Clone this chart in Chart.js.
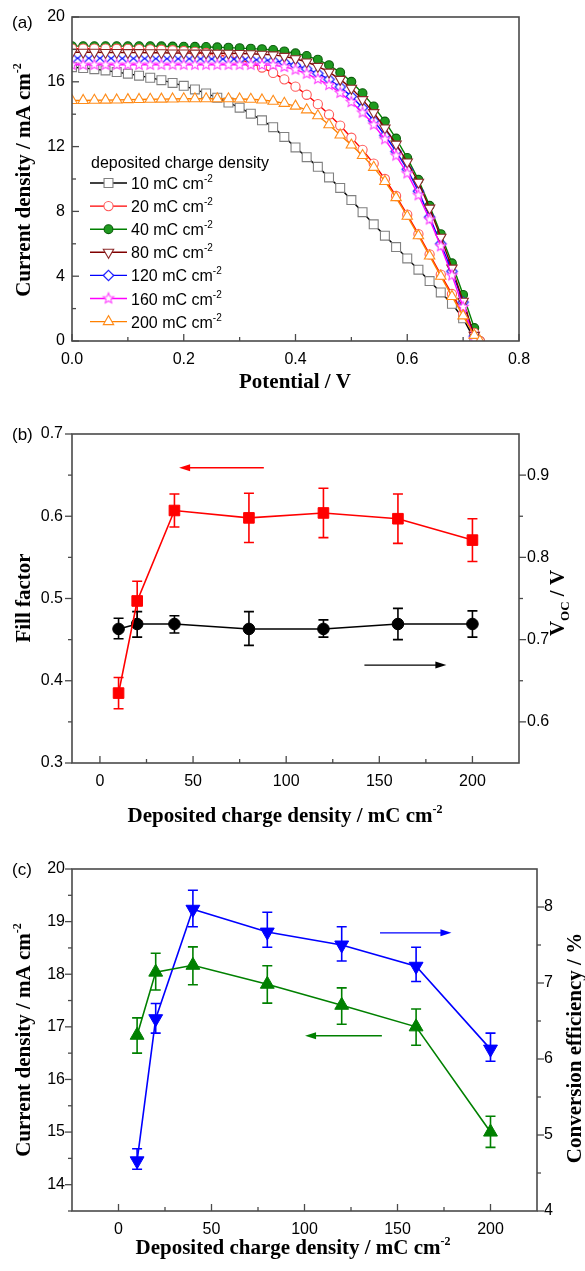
<!DOCTYPE html>
<html><head><meta charset="utf-8">
<script src="https://cdn.jsdelivr.net/npm/chart.js@4.4.1/dist/chart.umd.min.js"></script>
<style>
html,body{margin:0;padding:0;background:#fff;}
body{width:585px;height:1271px;position:relative;overflow:hidden;}
canvas{position:absolute;left:0;}
</style></head>
<body>
<canvas id="ca" width="585" height="400" style="top:0"></canvas>
<canvas id="cb" width="585" height="430" style="top:400px"></canvas>
<canvas id="cc" width="585" height="441" style="top:830px"></canvas>
<script>
// ---------------- DATA ----------------
// (a) J-V curves
const voltage = [0.00,0.02,0.04,0.06,0.08,0.10,0.12,0.14,0.16,0.18,0.20,0.22,0.24,0.26,0.28,0.30,0.32,0.34,0.36,0.38,0.40,0.42,0.44,0.46,0.48,0.50,0.52,0.54,0.56,0.58,0.60,0.62,0.64,0.66,0.68,0.70,0.72,0.73];
const j10  = [16.90,16.85,16.78,16.70,16.60,16.50,16.38,16.25,16.10,15.93,15.75,15.53,15.28,15.02,14.72,14.40,14.03,13.62,13.20,12.60,11.95,11.35,10.75,10.10,9.45,8.70,7.95,7.20,6.50,5.80,5.10,4.40,3.70,3.00,2.30,1.40,0.10,null];
const j20  = [18.05,18.05,18.05,18.05,18.04,18.03,18.02,18.00,17.98,17.95,17.90,17.85,17.78,17.68,17.55,17.38,17.15,16.88,16.55,16.15,15.70,15.20,14.62,13.98,13.30,12.55,11.80,10.95,10.00,8.95,7.80,6.60,5.35,4.10,2.90,1.70,0.50,0.00];
const j40  = [18.20,18.20,18.20,18.20,18.20,18.20,18.20,18.20,18.19,18.18,18.17,18.16,18.15,18.13,18.11,18.08,18.05,18.02,17.97,17.88,17.76,17.60,17.37,17.03,16.58,16.00,15.30,14.48,13.55,12.50,11.30,9.95,8.35,6.60,4.80,2.85,0.80,0.00];
const j80  = [17.82,17.82,17.82,17.81,17.81,17.80,17.80,17.79,17.79,17.78,17.78,17.77,17.77,17.76,17.76,17.75,17.73,17.70,17.66,17.57,17.42,17.22,16.95,16.60,16.15,15.60,14.90,14.10,13.15,12.15,11.05,9.80,8.20,6.40,4.50,2.45,0.35,null];
const j120 = [17.45,17.45,17.45,17.45,17.44,17.44,17.44,17.43,17.43,17.42,17.42,17.42,17.41,17.41,17.40,17.40,17.38,17.35,17.30,17.20,17.02,16.80,16.52,16.15,15.68,15.10,14.40,13.60,12.70,11.70,10.60,9.25,7.65,6.00,4.30,2.40,0.30,null];
const j160 = [17.05,17.05,17.05,17.05,17.05,17.05,17.05,17.05,17.05,17.05,17.05,17.05,17.05,17.05,17.05,17.05,17.05,17.04,17.03,16.92,16.75,16.50,16.17,15.80,15.32,14.75,14.10,13.35,12.45,11.45,10.35,9.00,7.50,5.85,4.05,2.10,0.10,null];
const j200 = [14.85,14.85,14.86,14.87,14.88,14.90,14.91,14.92,14.93,14.94,14.95,14.95,14.95,14.95,14.95,14.94,14.92,14.88,14.80,14.67,14.50,14.27,13.90,13.35,12.72,12.10,11.45,10.72,9.85,8.85,7.70,6.50,5.25,4.00,2.75,1.55,0.35,0.00];
const jvLabels = ['10','20','40','80','120','160','200'];

// (b) and (c) vs deposited charge density
const charge = [10,20,40,80,120,160,200];
const fillFactor     = [0.385,0.497,0.607,0.598,0.604,0.597,0.571];
const fillFactorLow  = [0.366,0.473,0.587,0.568,0.574,0.567,0.545];
const fillFactorHigh = [0.404,0.521,0.627,0.628,0.634,0.627,0.597];
const voc     = [0.713,0.719,0.719,0.713,0.713,0.719,0.719];
const vocLow  = [0.701,0.703,0.708,0.693,0.703,0.700,0.703];
const vocHigh = [0.726,0.734,0.729,0.734,0.724,0.738,0.735];
const jsc     = [16.84,18.04,18.17,17.81,17.41,17.00,15.00];
const jscLow  = [16.50,17.70,17.80,17.45,17.05,16.65,14.71];
const jscHigh = [17.17,18.40,18.52,18.16,17.74,17.34,15.30];
const eff     = [4.66,6.53,7.97,7.67,7.50,7.22,6.13];
const effLow  = [4.55,6.34,7.74,7.47,7.29,7.02,5.97];
const effHigh = [4.82,6.73,8.22,7.93,7.74,7.47,6.34];

// tick values
const aXTicks = [0,0.2,0.4,0.6,0.8], aXMinor = [0.1,0.3,0.5,0.7];
const aYTicks = [0,4,8,12,16,20], aYMinor = [2,6,10,14,18];
const bXTicks = [0,50,100,150,200], bXMinor = [25,75,125,175];
const bYTicks = [0.3,0.4,0.5,0.6,0.7], bYMinor = [0.35,0.45,0.55,0.65];
const bY2Ticks = [0.6,0.7,0.8,0.9], bY2Minor = [0.65,0.75,0.85];
const cXTicks = [0,50,100,150,200], cXMinor = [25,75,125,175];
const cYTicks = [14,15,16,17,18,19,20], cYMinor = [13.5,14.5,15.5,16.5,17.5,18.5,19.5];
const cY2Ticks = [4,5,6,7,8], cY2Minor = [4.5,5.5,6.5,7.5];

// ---------------- HELPERS ----------------
const SANS = '"Liberation Sans", Arial, sans-serif';
const SERIF = '"Liberation Serif", "Times New Roman", serif';
const TICKFONT = {family: 'Liberation Sans', size: 16};
const AXIS = '#4a4a4a';
const TITLE = 'bold 21px ' + SERIF, SUP = 'bold 12px ' + SERIF;

function markerCanvas(shape, color, fill, r, lw) {
  const s = Math.ceil(2 * r + 2 * lw + 2);
  const c = document.createElement('canvas'); c.width = c.height = s;
  const g = c.getContext('2d'); g.translate(s / 2, s / 2);
  g.beginPath();
  if (shape === 'star') {
    for (let i = 0; i < 10; i++) {
      const rr = i % 2 ? r * 0.45 : r; const a = -Math.PI / 2 + i * Math.PI / 5;
      g.lineTo(rr * Math.cos(a), rr * Math.sin(a));
    }
  } else if (shape === 'diamond') {
    g.moveTo(0, -r); g.lineTo(r, 0); g.lineTo(0, r); g.lineTo(-r, 0);
  }
  g.closePath(); g.fillStyle = fill; g.fill(); g.lineWidth = lw; g.strokeStyle = color; g.stroke();
  return c;
}

function rich(ctx, parts, x, y, rot, align) {
  ctx.save(); ctx.translate(x, y); ctx.rotate(rot || 0);
  let w = 0; parts.forEach(p => { ctx.font = p.f; p.w = ctx.measureText(p.t).width; w += p.w; });
  let cx = align === 'left' ? 0 : -w / 2;
  ctx.textBaseline = 'alphabetic'; ctx.textAlign = 'left'; ctx.fillStyle = '#000';
  parts.forEach(p => { ctx.font = p.f; ctx.fillText(p.t, cx, p.dy || 0); cx += p.w; });
  ctx.restore();
}

function fixedTicks(vals) { return s => { s.ticks = vals.map(v => ({value: v})); }; }

// frame + tick marks
function framePlugin(spec) {
  return {
    id: 'frame',
    afterDatasetsDraw(chart) {
      const ctx = chart.ctx, a = chart.chartArea;
      ctx.save();
      ctx.strokeStyle = AXIS; ctx.lineWidth = 1.6;
      ctx.strokeRect(a.left, a.top, a.right - a.left, a.bottom - a.top);
      ctx.lineWidth = 1.3;
      spec.forEach(s => {
        const sc = chart.scales[s.id];
        const draw = (v, len) => {
          const p = sc.getPixelForValue(v);
          ctx.beginPath();
          if (s.side === 'bottom') { const d = s.dir === 'in' ? -len : len; ctx.moveTo(p, a.bottom); ctx.lineTo(p, a.bottom + d); }
          else if (s.side === 'left') { const d = s.dir === 'in' ? len : -len; ctx.moveTo(a.left, p); ctx.lineTo(a.left + d, p); }
          else { const d = s.dir === 'in' ? -len : len; ctx.moveTo(a.right, p); ctx.lineTo(a.right + d, p); }
          ctx.stroke();
        };
        s.major.forEach(v => draw(v, 7));
        s.minor.forEach(v => draw(v, 4));
      });
      ctx.restore();
    }
  };
}

function errorBarPlugin() {
  return {
    id: 'errbars',
    beforeDatasetsDraw(chart) {
      const ctx = chart.ctx;
      chart.data.datasets.forEach(ds => {
        if (!ds.errLow) return;
        const xs = chart.scales.x, ys = chart.scales[ds.yAxisID];
        ctx.save(); ctx.strokeStyle = ds.borderColor; ctx.lineWidth = 1.6;
        ds.data.forEach((pt, i) => {
          const x = xs.getPixelForValue(pt.x);
          const y1 = ys.getPixelForValue(ds.errLow[i]), y2 = ys.getPixelForValue(ds.errHigh[i]);
          ctx.beginPath();
          ctx.moveTo(x, y1); ctx.lineTo(x, y2);
          ctx.moveTo(x - 5, y1); ctx.lineTo(x + 5, y1);
          ctx.moveTo(x - 5, y2); ctx.lineTo(x + 5, y2);
          ctx.stroke();
        });
        ctx.restore();
      });
    }
  };
}

function arrowPlugin(arrows) {
  return {
    id: 'arrows',
    afterDatasetsDraw(chart) {
      const ctx = chart.ctx;
      arrows.forEach(ar => {
        const xs = chart.scales.x, ys = chart.scales[ar.axis];
        const x0 = xs.getPixelForValue(ar.from), x1 = xs.getPixelForValue(ar.to), y = ys.getPixelForValue(ar.y);
        const dir = Math.sign(x1 - x0);
        ctx.save(); ctx.strokeStyle = ar.color; ctx.fillStyle = ar.color; ctx.lineWidth = 1.4;
        ctx.beginPath(); ctx.moveTo(x0, y); ctx.lineTo(x1 - dir * 8, y); ctx.stroke();
        ctx.beginPath(); ctx.moveTo(x1, y); ctx.lineTo(x1 - dir * 11, y - 3.5); ctx.lineTo(x1 - dir * 11, y + 3.5); ctx.closePath(); ctx.fill();
        ctx.restore();
      });
    }
  };
}

function textPlugin(fn) { return {id: 'texts', afterDraw(chart) { fn(chart.ctx, chart); }}; }

function scaleX(min, max, ticks, height, pad, fmt) {
  return {type: 'linear', min, max, afterBuildTicks: fixedTicks(ticks), afterFit: s => { s.height = height; },
    grid: {display: false, drawTicks: false}, border: {display: false},
    ticks: {padding: pad, font: TICKFONT, color: '#000', maxRotation: 0, autoSkip: false, callback: fmt}};
}
function scaleY(min, max, ticks, width, pad, fmt, pos) {
  return {type: 'linear', position: pos || 'left', min, max, afterBuildTicks: fixedTicks(ticks), afterFit: s => { s.width = width; },
    grid: {display: false, drawTicks: false}, border: {display: false},
    ticks: {padding: pad, font: TICKFONT, color: '#000', autoSkip: false, callback: fmt}};
}

const baseOpts = {responsive: false, animation: false, events: [],
  plugins: {legend: {display: false}, tooltip: {enabled: false}}};

// ---------------- PANEL (a) ----------------
const jvData = [j10, j20, j40, j80, j120, j160, j200];
const jvStyle = [
  {line: '#000000', edge: '#808080', fill: '#ffffff', ps: 'rect', r: 6.3},
  {line: '#ff0000', edge: '#ff5a5a', fill: '#ffffff', ps: 'circle', r: 4.6},
  {line: '#008000', edge: '#0b5e0b', fill: '#1f9a1f', ps: 'circle', r: 4.4},
  {line: '#800000', edge: '#8c2a2a', fill: '#ffffff', ps: 'triangle', r: 6, rot: 180},
  {line: '#0000ff', edge: '#1a1aff', fill: '#ffffff', ps: markerCanvas('diamond', '#1a1aff', '#ffffff', 5.2, 1.2), r: 5},
  {line: '#ff00ff', edge: '#ff40ff', fill: '#ffffff', ps: markerCanvas('star', '#ff40ff', '#ffffff', 5.5, 1.1), r: 5},
  {line: '#ff8000', edge: '#ff8c1a', fill: '#ffffff', ps: 'triangle', r: 6, rot: 0},
];
const drawOrder = [6, 5, 7, 3, 4, 2, 1];

new Chart(document.getElementById('ca'), {
  type: 'line',
  data: {datasets: jvData.map((arr, k) => ({
    label: jvLabels[k] + ' mC cm-2',
    data: voltage.map((v, i) => ({x: v, y: arr[i]})),
    borderColor: jvStyle[k].line, borderWidth: 1.4, tension: 0,
    pointStyle: jvStyle[k].ps, pointRadius: jvStyle[k].r, pointRotation: jvStyle[k].rot || 0,
    pointBorderColor: jvStyle[k].edge, pointBackgroundColor: jvStyle[k].fill, pointBorderWidth: 1.1,
    order: drawOrder[k], spanGaps: false
  }))},
  options: Object.assign({}, baseOpts, {
    layout: {padding: {top: 17, right: 66, left: 0, bottom: 0}},
    scales: {
      x: scaleX(0, 0.8, aXTicks, 59, 9, v => v.toFixed(1)),
      y: scaleY(0, 20, aYTicks, 72, 7, v => String(v))
    }
  }),
  plugins: [
    framePlugin([{id: 'x', side: 'bottom', dir: 'in', major: aXTicks, minor: aXMinor},
                 {id: 'y', side: 'left', dir: 'in', major: aYTicks, minor: aYMinor}]),
    textPlugin((ctx, chart) => {
      rich(ctx, [{t: '(a)', f: '17px ' + SANS}], 12, 28, 0, 'left');
      rich(ctx, [{t: 'Potential / V', f: TITLE}], 295, 388);
      rich(ctx, [{t: 'Current density / mA cm', f: TITLE}, {t: '-2', f: SUP, dy: -9}], 30, 180, -Math.PI / 2);
      // legend
      rich(ctx, [{t: 'deposited charge density', f: '16px ' + SANS}], 91, 168, 0, 'left');
      jvStyle.forEach((st, k) => {
        const y = 183 + k * 23.1;
        ctx.save(); ctx.strokeStyle = st.line; ctx.lineWidth = 1.4;
        ctx.beginPath(); ctx.moveTo(90, y); ctx.lineTo(127, y); ctx.stroke();
        ctx.strokeStyle = st.edge; ctx.fillStyle = st.fill; ctx.lineWidth = 1.1;
        Chart.helpers.drawPoint(ctx, {pointStyle: st.ps, radius: st.r, rotation: st.rot || 0, borderWidth: 1.1}, 108.5, y);
        ctx.restore();
        rich(ctx, [{t: jvLabels[k] + ' mC cm', f: '16px ' + SANS}, {t: '-2', f: '10px ' + SANS, dy: -7}], 131, y + 6, 0, 'left');
      });
    })
  ]
});

// ---------------- PANEL (b) ----------------
new Chart(document.getElementById('cb'), {
  type: 'line',
  data: {datasets: [
    {label: 'Fill factor', yAxisID: 'y', data: charge.map((c, i) => ({x: c, y: fillFactor[i]})),
      errLow: fillFactorLow, errHigh: fillFactorHigh,
      borderColor: '#ff0000', borderWidth: 1.6, pointStyle: 'rect', pointRadius: 7.5,
      pointBackgroundColor: '#ff0000', pointBorderColor: '#ff0000', pointBorderWidth: 1},
    {label: 'Voc', yAxisID: 'y2', data: charge.map((c, i) => ({x: c, y: voc[i]})),
      errLow: vocLow, errHigh: vocHigh,
      borderColor: '#000000', borderWidth: 1.6, pointStyle: 'circle', pointRadius: 5.8,
      pointBackgroundColor: '#000000', pointBorderColor: '#000000', pointBorderWidth: 1}
  ]},
  options: Object.assign({}, baseOpts, {
    layout: {padding: {top: 34, right: 0, left: 0, bottom: 0}},
    scales: {
      x: scaleX(-15, 225, bXTicks, 67, 9, v => String(v)),
      y: scaleY(0.3, 0.7, bYTicks, 72, 9, v => v.toFixed(1)),
      y2: scaleY(0.55, 0.95, bY2Ticks, 66, 8, v => v.toFixed(1), 'right')
    }
  }),
  plugins: [
    errorBarPlugin(),
    arrowPlugin([{axis: 'y', from: 88, to: 42.5, y: 0.659, color: '#ff0000'},
                 {axis: 'y2', from: 142, to: 186, y: 0.669, color: '#000000'}]),
    framePlugin([{id: 'x', side: 'bottom', dir: 'in', major: bXTicks, minor: bXMinor},
                 {id: 'y', side: 'left', dir: 'out', major: bYTicks, minor: bYMinor},
                 {id: 'y2', side: 'right', dir: 'out', major: bY2Ticks, minor: bY2Minor}]),
    textPlugin((ctx) => {
      rich(ctx, [{t: '(b)', f: '17px ' + SANS}], 12, 40, 0, 'left');
      rich(ctx, [{t: 'Deposited charge density / mC cm', f: TITLE}, {t: '-2', f: SUP, dy: -9}], 285, 422);
      rich(ctx, [{t: 'Fill factor', f: TITLE}], 30, 198, -Math.PI / 2);
      rich(ctx, [{t: 'V', f: TITLE}, {t: 'OC', f: 'bold 13px ' + SERIF, dy: 5}, {t: ' / V', f: TITLE}], 564, 203, -Math.PI / 2);
    })
  ]
});

// ---------------- PANEL (c) ----------------
new Chart(document.getElementById('cc'), {
  type: 'line',
  data: {datasets: [
    {label: 'Current density', yAxisID: 'y', data: charge.map((c, i) => ({x: c, y: jsc[i]})),
      errLow: jscLow, errHigh: jscHigh,
      borderColor: '#008000', borderWidth: 1.6, pointStyle: 'triangle', pointRadius: 8,
      pointBackgroundColor: '#008000', pointBorderColor: '#008000', pointBorderWidth: 1},
    {label: 'Conversion efficiency', yAxisID: 'y2', data: charge.map((c, i) => ({x: c, y: eff[i]})),
      errLow: effLow, errHigh: effHigh,
      borderColor: '#0000ff', borderWidth: 1.6, pointStyle: 'triangle', pointRotation: 180, pointRadius: 8,
      pointBackgroundColor: '#0000ff', pointBorderColor: '#0000ff', pointBorderWidth: 1}
  ]},
  options: Object.assign({}, baseOpts, {
    layout: {padding: {top: 39, right: 0, left: 0, bottom: 0}},
    scales: {
      x: scaleX(-25, 225, cXTicks, 60, 9, v => String(v)),
      y: scaleY(13.5, 20, cYTicks, 72, 7, v => String(v)),
      y2: scaleY(4, 8.5, cY2Ticks, 48, 7, v => String(v), 'right')
    }
  }),
  plugins: [
    errorBarPlugin(),
    arrowPlugin([{axis: 'y2', from: 140.6, to: 179, y: 7.66, color: '#0000ff'},
                 {axis: 'y', from: 141.6, to: 100.3, y: 16.83, color: '#008000'}]),
    framePlugin([{id: 'x', side: 'bottom', dir: 'in', major: cXTicks, minor: cXMinor},
                 {id: 'y', side: 'left', dir: 'out', major: cYTicks, minor: cYMinor},
                 {id: 'y2', side: 'right', dir: 'out', major: cY2Ticks, minor: cY2Minor}]),
    textPlugin((ctx) => {
      rich(ctx, [{t: '(c)', f: '17px ' + SANS}], 12, 45, 0, 'left');
      rich(ctx, [{t: 'Deposited charge density / mC cm', f: TITLE}, {t: '-2', f: SUP, dy: -9}], 293, 424);
      rich(ctx, [{t: 'Current density / mA cm', f: TITLE}, {t: '-2', f: SUP, dy: -9}], 30, 210, -Math.PI / 2);
      rich(ctx, [{t: 'Conversion efficiency / %', f: TITLE}], 581, 218, -Math.PI / 2);
    })
  ]
});
</script>
</body></html>
